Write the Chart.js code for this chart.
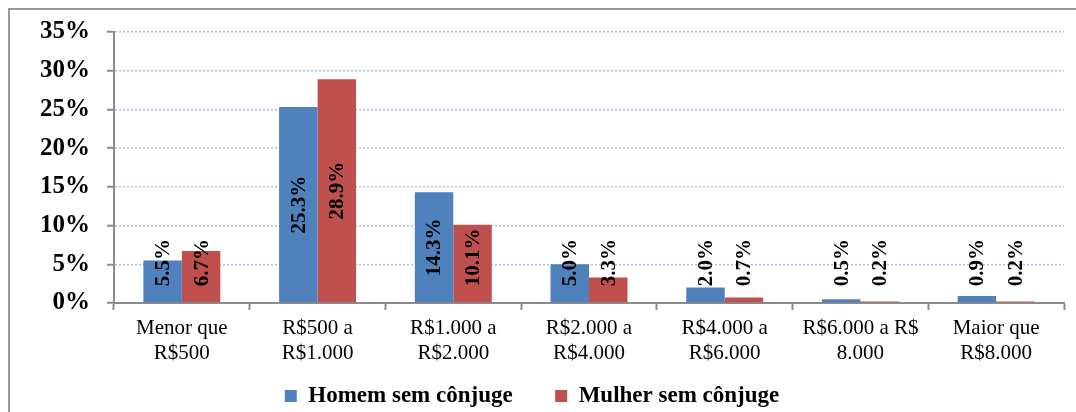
<!DOCTYPE html>
<html>
<head>
<meta charset="utf-8">
<script src="https://cdn.jsdelivr.net/npm/chart.js@4/dist/chart.umd.min.js"></script>
<style>
  html, body { margin: 0; padding: 0; background: #fff; overflow: hidden; }
  #wrap { position: relative; width: 1076px; height: 430px; }
</style>
</head>
<body>
<div id="wrap"><canvas id="chart-renda"></canvas></div>
<script>
// faixas de renda
const categorias = [
  ['Menor que', 'R$500'],
  ['R$500 a', 'R$1.000'],
  ['R$1.000 a', 'R$2.000'],
  ['R$2.000 a', 'R$4.000'],
  ['R$4.000 a', 'R$6.000'],
  ['R$6.000 a R$', '8.000'],
  ['Maior que', 'R$8.000']
];
const homemSemConjuge = [5.5, 25.3, 14.3, 5.0, 2.0, 0.5, 0.9];
const mulherSemConjuge = [6.7, 28.9, 10.1, 3.3, 0.7, 0.2, 0.2];
const yTicks = [0, 5, 10, 15, 20, 25, 30, 35];

const serif = "'Liberation Serif', 'Times New Roman', serif";

// moldura externa
const moldura = {
  id: 'moldura',
  beforeDraw(chart) {
    const ctx = chart.ctx;
    ctx.save();
    ctx.strokeStyle = '#9a9a9a';
    ctx.lineWidth = 2;
    ctx.strokeRect(9, 9, 2000, 2000);
    ctx.restore();
  }
};

// rotulos verticais nas barras
const rotulos = {
  id: 'rotulos',
  afterDatasetsDraw(chart) {
    const ctx = chart.ctx;
    ctx.save();
    ctx.font = 'bold 21px ' + serif;
    ctx.fillStyle = '#000';
    ctx.textAlign = 'center';
    ctx.textBaseline = 'middle';
    chart.data.datasets.forEach(function(ds, i) {
      const meta = chart.getDatasetMeta(i);
      meta.data.forEach(function(bar, j) {
        const txt = ds.data[j].toFixed(1) + '%';
        const w = ctx.measureText(txt).width;
        const cy = Math.min((bar.y + bar.base) / 2, bar.base - 16 - w / 2);
        ctx.save();
        ctx.translate(bar.x + 1, cy);
        ctx.rotate(-Math.PI / 2);
        ctx.fillText(txt, 0, 0);
        ctx.restore();
      });
    });
    ctx.restore();
  }
};

const canvas = document.getElementById('chart-renda');

const chartRenda = new Chart(canvas, {
  type: 'bar',
  data: {
    labels: categorias,
    datasets: [{
      label: 'Homem sem cônjuge',
      data: homemSemConjuge,
      backgroundColor: '#4F81BD',
      categoryPercentage: 0.567,
      barPercentage: 1
    }, {
      label: 'Mulher sem cônjuge',
      data: mulherSemConjuge,
      backgroundColor: '#C0504D',
      categoryPercentage: 0.567,
      barPercentage: 1
    }]
  },
  options: {
    responsive: true,
    maintainAspectRatio: false,
    animation: false,
    layout: {
      padding: { left: 0, right: 12, top: 30, bottom: 12.5 }
    },
    plugins: {
      tooltip: { enabled: false },
      legend: {
        position: 'bottom',
        labels: {
          boxWidth: 12,
          boxHeight: 12,
          padding: 19.5,
          color: '#000',
          font: { family: serif, size: 23, weight: 'bold' },
          generateLabels(chart) {
            const items = Chart.defaults.plugins.legend.labels.generateLabels(chart);
            // espaco extra entre as duas series
            items[0].text = items[0].text + '    ';
            return items;
          }
        }
      }
    },
    scales: {
      x: {
        grid: {
          offset: true,
          drawOnChartArea: false,
          tickLength: 7,
          tickColor: '#8c8c8c',
          tickWidth: 2
        },
        border: { color: '#8c8c8c', width: 2 },
        ticks: {
          color: '#000',
          padding: 6,
          maxRotation: 0,
          font: { family: serif, size: 21, lineHeight: 1.2 }
        },
        afterFit(scale) { scale.height = 62; }
      },
      y: {
        min: 0,
        max: 35,
        afterBuildTicks(scale) {
          scale.ticks = yTicks.map(function(v) { return { value: v }; });
        },
        grid: {
          color(c) { return c.tick && c.tick.value === 0 ? 'rgba(0,0,0,0)' : '#a9bfe6'; },
          lineWidth: 1.5,
          tickLength: 7,
          tickColor: '#8c8c8c',
          tickWidth: 2,
          tickBorderDash: []
        },
        border: { color: '#8c8c8c', width: 2, dash: [2, 2] },
        ticks: {
          color: '#000',
          padding: 17,
          font: { family: serif, size: 25, weight: 'bold' },
          callback: function(v) { return v + '%'; }
        },
        afterFit(scale) { scale.width = 114; }
      }
    }
  },
  plugins: [moldura, rotulos]
});
</script>
</body>
</html>
